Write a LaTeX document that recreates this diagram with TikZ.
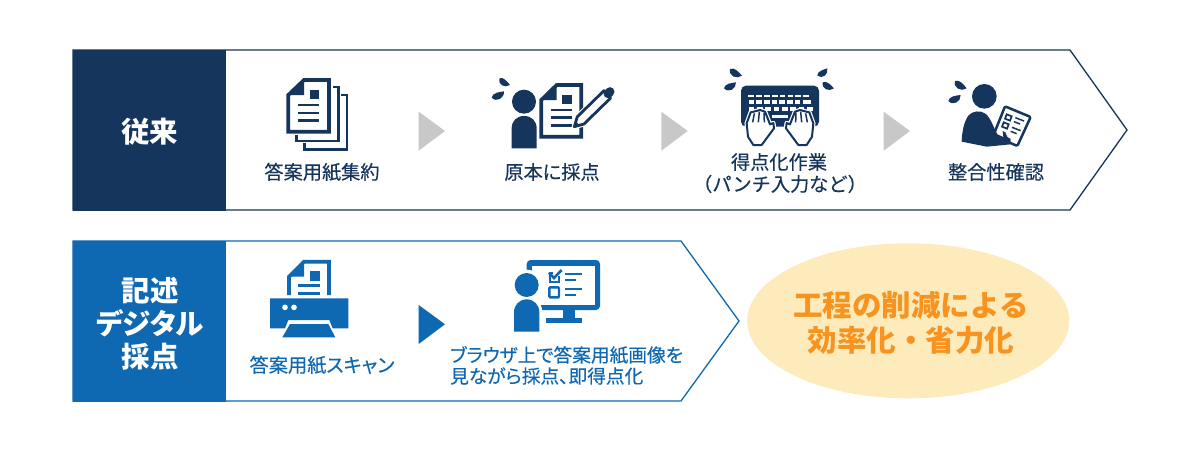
\documentclass[tikz,border=0pt]{standalone}
\usepackage{fontspec}
\setmainfont[RawFeature=+palt]{Noto Sans CJK JP}
\newfontfamily\lblfont[FakeBold=0.3,RawFeature=+palt]{Noto Sans CJK JP}
\newfontfamily\plainlblfont[FakeBold=0.3]{Noto Sans CJK JP}
\newfontfamily\goalfont{Noto Sans CJK JP}
\definecolor{navy}{HTML}{15355C}
\definecolor{azure}{HTML}{0F68B2}
\definecolor{chev}{HTML}{C8C8C8}
\definecolor{cream}{HTML}{FDEBBB}
\definecolor{amber}{HTML}{F7931E}
\newcommand{\dropmark}[4]{\fill (#1,#2) .. controls ({#1+.15*(#3-#1)-.5*(#4-#2)},{#2+.15*(#4-#2)+.5*(#3-#1)}) and ({#1+.8*(#3-#1)-.45*(#4-#2)},{#2+.8*(#4-#2)+.45*(#3-#1)}) .. (#3,#4) .. controls ({#1+.7*(#3-#1)+.1*(#4-#2)},{#2+.7*(#4-#2)-.1*(#3-#1)}) and ({#1+.2*(#3-#1)+.3*(#4-#2)},{#2+.2*(#4-#2)-.3*(#3-#1)}) .. cycle;}
\newcommand{\handmark}{%
  \draw[fill=white,draw=white,line width=4.4pt,line join=round] (84,215) -- (80,175) -- (92,142) -- (105,139) -- (120,135) -- (135,140) -- (145,165) -- (150,178) -- (160,174) -- (162,190) -- (125,240) -- (100,240) -- cycle;
  \draw[fill=white,draw=navy,line width=2pt,line join=round] (84,215) -- (80,175) -- (92,142) -- (105,139) -- (120,135) -- (135,140) -- (145,165) -- (150,178) -- (160,174) -- (162,190) -- (125,240) -- (100,240) -- cycle;
  \draw[navy,line width=1.5pt] (103,145) -- (98,172) (118,140) -- (115,172) (132,143) -- (133,172);
}
\tikzset{
  zoomat/.style={shift={#1},x=0.33333pt,y=-0.33333pt},
  lbl/.style={inner sep=0pt,font=\lblfont\fontsize{19.2}{23}\selectfont,align=center},
  darklbl/.style={lbl,text=navy},
  bluelbl/.style={lbl,text=azure},
  longlbl/.style={bluelbl,font=\lblfont\fontsize{18.7}{23}\selectfont,anchor=west},
  titlelbl/.style={inner sep=0pt,text=white,font=\bfseries\fontsize{#1}{#1}\selectfont,align=center},
  goallbl/.style={inner sep=0pt,text=amber,font=\goalfont\bfseries\fontsize{29.5}{30}\selectfont},
  sheet/.style={line width=3.7pt,miter limit=10},
  bar/.style={line width=2.9pt},
  thinbar/.style={line width=2.3pt},
}
\begin{document}
\begin{tikzpicture}[x=1pt,y=-1pt]
\useasboundingbox (0,0) rectangle (1200,450);
\fill[white] (0,0) rectangle (1200,450);
% top band
\draw[navy,line width=1.3pt,fill=white] (73,50) -- (1070,50) -- (1127,130) -- (1070,210) -- (73,210) -- cycle;
\fill[navy] (72.5,49.5) rectangle (225.5,210.5);
% bottom band
\draw[azure,line width=1.3pt,fill=white] (73,241) -- (681,241) -- (739,321) -- (681,401) -- (73,401) -- cycle;
\fill[azure] (72.5,240.5) rectangle (225.5,401.5);
% ellipse
\fill[cream] (908.2,320.8) ellipse [x radius=161,y radius=77.5];
% chevrons
\fill[chev] (418.7,111.7) -- (445,131) -- (418.7,150.7) -- cycle;
\fill[chev] (661.3,111.7) -- (687.7,131) -- (661.3,150.7) -- cycle;
\fill[chev] (883.7,111.7) -- (910,131) -- (883.7,150.7) -- cycle;
\fill[azure] (418.7,305) -- (445,324.3) -- (418.7,344) -- cycle;
% titles
\node[titlelbl=28.5] (t1) at (149.5,131.5) {従来};
\node[titlelbl=28.5] (t2a) at (150,291) {記述};
\node[titlelbl=28.5] (t2b) at (150,323) {デジタル};
\node[titlelbl=28.5] (t2c) at (150,356.5) {採点};
% labels
\node[darklbl] (a1) at (322,172) {答案用紙集約};
\node[darklbl] (a2) at (552,172) {原本に採点};
\node[darklbl] (a3) at (779,162) {得点化作業};
\node[darklbl,font=\plainlblfont\fontsize{19.2}{23}\selectfont] (a3b) at (780,184) {（パンチ入力など）};
\node[darklbl] (a4) at (996,172) {整合性確認};
\node[bluelbl] (b1) at (322,365) {答案用紙スキャン};
\node[longlbl] (b2) at (450,355) {ブラウザ上で答案用紙画像を};
\node[longlbl] (b2b) at (450,376) {見ながら採点、即得点化};
\node[goallbl] (g1) at (911,305) {工程の削減による};
\node[goallbl] (g2) at (911,340) {効率化・省力化};
% icon 1 : stacked sheets
\begin{scope}[zoomat={(230,60)},navy]
  \draw[line width=2.7pt] (224,250) -- (224,268) -- (351,268) -- (351,105) -- (334,105);
  \draw[line width=2.7pt] (199,226) -- (199,243) -- (326,243) -- (326,81) -- (308,81);
  \fill (222,55) -- (222,105) -- (172,105) -- cycle;
  \draw[sheet,fill=none] (222,60) -- (297,60) -- (297,215) -- (175,215) -- (175,105) -- cycle;
  \fill (240,90) rectangle (268,118);
  \draw[bar] (205,135) -- (268,135) (205,159) -- (268,159) (205,182) -- (268,182);
\end{scope}
% icon 2 : person marking the original
\begin{scope}[zoomat={(230,60)},navy]
  \dropmark{808}{55}{840}{75}
  \dropmark{785}{113}{822}{94}
  \fill (882,125) circle [radius=36];
  \fill (845,265) -- (845,205) .. controls (845,183) and (860,168) .. (882,168) .. controls (905,168) and (920,183) .. (920,205) -- (920,265) -- cycle;
  \fill (980,70) -- (980,120) -- (930,120) -- cycle;
  \draw[sheet] (980,75) -- (1054,75) -- (1054,230) -- (934,230) -- (934,120) -- cycle;
  \fill (997,105) rectangle (1025,133);
  \draw[bar] (962,150) -- (1025,150) (962,173) -- (1025,173) (962,197) -- (1025,197);
  \draw[white,line width=5pt,fill=white] (1033,200) -- (1042,170) -- (1122,92) -- (1142,114) -- (1062,192) -- cycle;
  \draw[line width=2.8pt,fill=white,line join=round] (1033,200) -- (1042,170) -- (1122,92) -- (1142,114) -- (1062,192) -- cycle;
  \fill (1033,200) -- (1037,184) -- (1049,196) -- cycle;
  \draw[line width=9pt,line cap=round] (1134,101) -- (1140,95);
\end{scope}
% icon 3 : keyboard
\begin{scope}[zoomat={(720,65)},navy]
  \dropmark{30}{12}{66}{32}
  \dropmark{12}{70}{48}{52}
  \dropmark{292}{32}{322}{10}
  \dropmark{308}{52}{342}{70}
  \fill[rounded corners=5pt] (63,62) rectangle (297,185);
  \foreach \k in {0,...,7} \fill[white] ({85+\k*23.5},89) rectangle ({85+\k*23.5+17},95);
  \foreach \k in {0,...,6} \fill[white] ({86+\k*23},106) rectangle ({86+\k*23+17},118);
  \fill[white] (250,106) rectangle (272,118);
  \foreach \k in {0,...,7} \fill[white] ({86+\k*25},126) rectangle ({86+\k*25+17},138);
  \fill[white] (155,149) rectangle (205,158);
  \handmark
  \begin{scope}[xshift=120pt,x=-0.33333pt]
    \handmark
  \end{scope}
\end{scope}
% icon 4 : person with clipboard
\begin{scope}[zoomat={(940,75)},navy]
  \dropmark{45}{18}{80}{40}
  \dropmark{25}{78}{62}{60}
  \fill (133,64) circle [radius=37];
  \draw[line width=2.5pt,fill=white,rounded corners=1.2pt,line join=round] (195,94) -- (272,126) -- (232,213) -- (160,182) -- cycle;
  \draw[line width=1.7pt] (200,118) -- (215,124) -- (210,137) -- (195,131) -- cycle;
  \draw[line width=1.7pt] (191,142) -- (206,148) -- (201,161) -- (186,155) -- cycle;
  \draw[line width=1.5pt] (226,128) -- (252,138) (222,140) -- (240,147) (216,157) -- (242,167) (212,169) -- (230,176);
  \fill (65,200) .. controls (66,170) and (72,140) .. (85,122) .. controls (95,108) and (122,104) .. (138,117) .. controls (152,130) and (162,160) .. (172,178) -- (190,186) -- (188,168) -- (196,172) -- (202,186) -- (212,192) -- (212,208) -- (140,215) -- cycle;
\end{scope}
% icon 5 : scanner
\begin{scope}[zoomat={(230,250)},azure]
  \fill (222,30) -- (222,80) -- (172,80) -- cycle;
  \draw[sheet,line cap=butt] (177,135) -- (177,80) -- (222,35) -- (297,35) -- (297,135);
  \fill (240,63) rectangle (270,92);
  \draw[bar] (205,107) -- (270,107) (205,130) -- (270,130);
  \fill (120,145) -- (355,145) -- (355,235) -- (308,235) -- (298,210) -- (175,210) -- (165,235) -- (120,235) -- cycle;
  \fill (180,222) -- (295,222) -- (316,262) -- (157,262) -- cycle;
  \fill[white] (165,172) circle [radius=8.5];
  \fill[white] (192,172) circle [radius=8.5];
\end{scope}
% icon 6 : person at monitor
\begin{scope}[zoomat={(500,250)},azure]
  \fill[rounded corners=4pt] (80,30) rectangle (300,180);
  \fill[white] (95,47) rectangle (284,164);
  \fill (190,178) rectangle (225,205);
  \fill (138,203) rectangle (245,218);
  \fill[white] (80,105) circle [radius=46];
  \fill[white] (30,250) -- (30,195) .. controls (30,160) and (55,138) .. (80,138) .. controls (108,138) and (128,160) .. (128,195) -- (128,250) -- cycle;
  \fill (80,105) circle [radius=36];
  \fill (42,245) -- (42,187) .. controls (42,165) and (58,148) .. (80,148) .. controls (102,148) and (118,165) .. (118,187) -- (118,245) -- cycle;
  \draw[line width=2.3pt] (149,68) -- (149,95) -- (176,95) -- (176,78);
  \draw[line width=2.3pt] (147,68) -- (160,68);
  \draw[line width=2.6pt] (147,68) -- (162,84) -- (185,60);
  \draw[line width=2.4pt,rounded corners=1pt] (148,112) rectangle (177,142);
  \draw[thinbar] (195,72) -- (246,72) (195,90) -- (228,90) (195,118) -- (246,118) (195,136) -- (228,136);
\end{scope}
\end{tikzpicture}
\end{document}
